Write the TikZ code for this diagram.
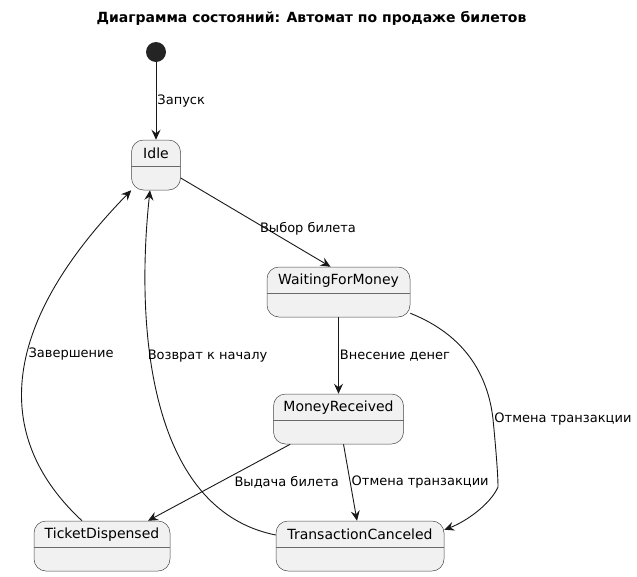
\documentclass[tikz,border=0pt]{standalone}
\usepackage{fontspec}
\setmainfont{DejaVu Sans}
\usetikzlibrary{arrows.meta}
\definecolor{stfill}{HTML}{F1F1F1}
\definecolor{stline}{HTML}{181818}
\begin{document}
\begin{tikzpicture}[x=1pt, y=-1pt, font=\fontsize{13}{15}\selectfont,
		state/.style={draw=stline!80, fill=stfill, rounded corners=12pt, minimum height=50, inner sep=0pt, line width=0.5pt},
		tr/.style={draw=stline, line width=0.9pt, -{Stealth[length=10pt, width=9pt, inset=3.5pt]}},
		lbl/.style={inner sep=1pt, font=\fontsize{13}{15}\selectfont}]
	\useasboundingbox (0,0) rectangle (637,576);
	\node[font=\bfseries\fontsize{14}{16}\selectfont] (title) at (311.5,18) {Диаграмма состояний: Автомат по продаже билетов};
	\node[circle, fill=stline!95!white, minimum size=20, inner sep=0pt] (start) at (156,52) {};
	% states: name/x/y/width/text
	\foreach \n/\x/\y/\w/\t in {idle/156/165/49/Idle, wfm/338.5/292/143/WaitingForMoney, mr/338.5/419/130/MoneyReceived,
			td/102/546/136/TicketDispensed, tc/360/546/168/TransactionCanceled} {
		\node[state, minimum width=\w] (\n) at (\x,\y) {};
		\node[font=\fontsize{14}{16}\selectfont, inner sep=0pt] (\n-t) at ([yshift=-13.5pt]\n.north) {\t};
		\draw[stline!65, line width=0.4pt] ([yshift=-26pt]\n.north west) -- ([yshift=-26pt]\n.north east);
	}
	\draw[tr] (start) -- (idle) node[lbl, pos=0.5, anchor=west] {Запуск};
	\draw[tr] ([yshift=-13pt]idle.east) -- ([xshift=-8pt]wfm.north) node[lbl, pos=0.52, anchor=west, yshift=-5pt] {Выбор билета};
	\draw[tr] (wfm) -- (mr) node[lbl, midway, anchor=west] {Внесение денег};
	\draw[tr] ([yshift=4pt]wfm.south east) .. controls (465,335) and (488,375) .. (493,419) node[lbl, anchor=west] {Отмена транзакции}
		.. controls (496,450) and (498,475) .. (498,487) .. controls (490,505) and (465,522) .. ([yshift=-9pt]tc.north east);
	\draw[tr] ([xshift=17pt]mr.south west) -- ([xshift=46pt]td.north) node[lbl, pos=0.5, anchor=west, xshift=14pt] {Выдача билета};
	\draw[tr] ([xshift=5pt]mr.south) -- ([xshift=-3pt]tc.north) node[lbl, pos=0.5, anchor=west] {Отмена транзакции};
	\draw[tr] ([xshift=-20pt]td.north) .. controls (-5,440) and (-5,330) .. (idle.south west) node[lbl, pos=0.57, anchor=west] {Завершение};
	\draw[tr] ([yshift=11pt]tc.west) .. controls (150,510) and (135,330) .. ([xshift=-6pt]idle.south) node[lbl, pos=0.62, anchor=west, xshift=-4pt] {Возврат к началу};
\end{tikzpicture}
\end{document}
